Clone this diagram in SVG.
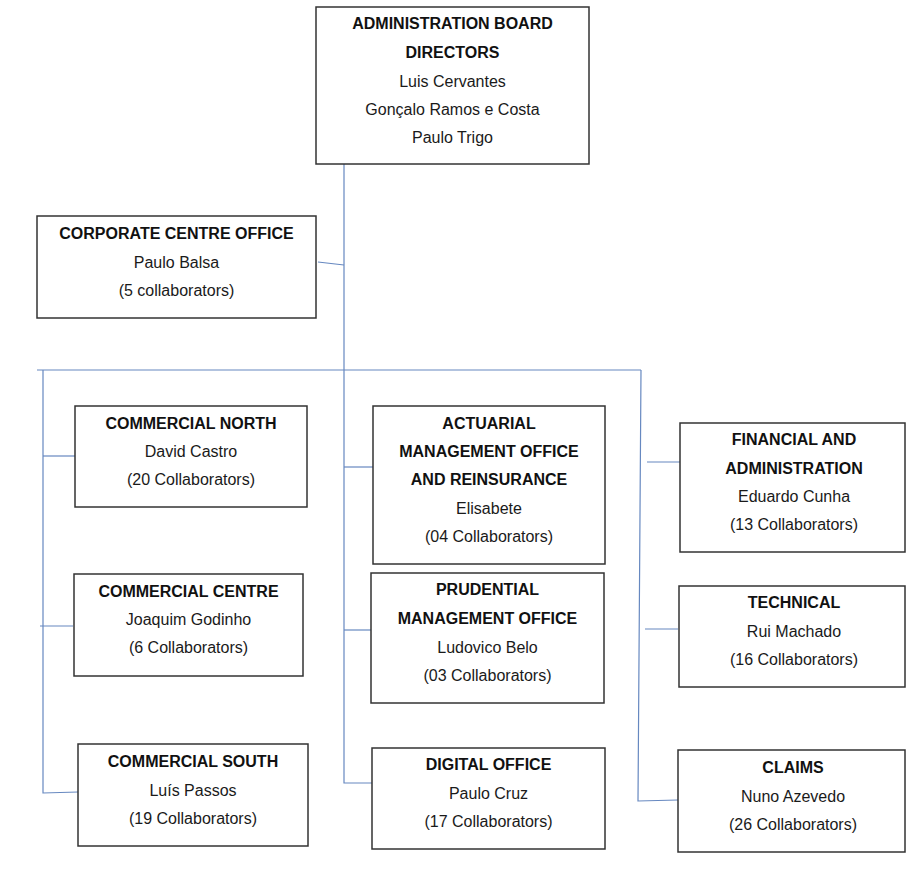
<svg xmlns="http://www.w3.org/2000/svg" width="908" height="869" viewBox="0 0 908 869">
<style>
.box{fill:#fff;stroke:#333;stroke-width:1.5}
.c{fill:none;stroke:#6688c0;stroke-width:1.2}
text{font-family:"Liberation Sans",Arial,sans-serif;font-size:16px;fill:#1a1a1a;text-anchor:middle}
.b{font-weight:bold;fill:#111}
</style>
<rect width="908" height="869" fill="#fff"/>
<g id="connectors">
<path class="c" d="M344,164 V783 H372"/>
<path class="c" d="M318,262 L344,265"/>
<path class="c" d="M37,370 H641"/>
<path class="c" d="M43,370 V793 L78,792"/>
<path class="c" d="M43,456 H75"/>
<path class="c" d="M40,626 H73"/>
<path class="c" d="M344,467 H373"/>
<path class="c" d="M344,630 H371"/>
<path class="c" d="M641,370 L638,801 L678,800"/>
<path class="c" d="M647,462 H680"/>
<path class="c" d="M645,629 H678"/>
</g>
<g id="board">
<rect class="box" x="316" y="7" width="273" height="157"/>
<text class="b" x="452.5" y="29">ADMINISTRATION BOARD</text>
<text class="b" x="452.5" y="58">DIRECTORS</text>
<text x="452.5" y="87">Luis Cervantes</text>
<text x="452.5" y="115">Gonçalo Ramos e Costa</text>
<text x="452.5" y="143">Paulo Trigo</text>
</g>
<g id="corporate">
<rect class="box" x="37" y="216" width="279" height="102"/>
<text class="b" x="176.5" y="239">CORPORATE CENTRE OFFICE</text>
<text x="176.5" y="268">Paulo Balsa</text>
<text x="176.5" y="296">(5 collaborators)</text>
</g>
<g id="comm-north">
<rect class="box" x="75" y="406" width="232" height="101"/>
<text class="b" x="191" y="429">COMMERCIAL NORTH</text>
<text x="191" y="457">David Castro</text>
<text x="191" y="485">(20 Collaborators)</text>
</g>
<g id="comm-centre">
<rect class="box" x="74" y="574" width="229" height="102"/>
<text class="b" x="188.5" y="597">COMMERCIAL CENTRE</text>
<text x="188.5" y="625">Joaquim Godinho</text>
<text x="188.5" y="653">(6 Collaborators)</text>
</g>
<g id="comm-south">
<rect class="box" x="78" y="744" width="230" height="102"/>
<text class="b" x="193" y="767">COMMERCIAL SOUTH</text>
<text x="193" y="796">Luís Passos</text>
<text x="193" y="824">(19 Collaborators)</text>
</g>
<g id="actuarial">
<rect class="box" x="373" y="406" width="232" height="158"/>
<text class="b" x="489" y="429">ACTUARIAL</text>
<text class="b" x="489" y="457">MANAGEMENT OFFICE</text>
<text class="b" x="489" y="485">AND REINSURANCE</text>
<text x="489" y="514">Elisabete</text>
<text x="489" y="542">(04 Collaborators)</text>
</g>
<g id="prudential">
<rect class="box" x="371" y="573" width="233" height="130"/>
<text class="b" x="487.5" y="595">PRUDENTIAL</text>
<text class="b" x="487.5" y="624">MANAGEMENT OFFICE</text>
<text x="487.5" y="653">Ludovico Belo</text>
<text x="487.5" y="681">(03 Collaborators)</text>
</g>
<g id="digital">
<rect class="box" x="372" y="748" width="233" height="101"/>
<text class="b" x="488.5" y="770">DIGITAL OFFICE</text>
<text x="488.5" y="799">Paulo Cruz</text>
<text x="488.5" y="827">(17 Collaborators)</text>
</g>
<g id="financial">
<rect class="box" x="680" y="423" width="225" height="129"/>
<text class="b" x="794" y="445">FINANCIAL AND</text>
<text class="b" x="794" y="474">ADMINISTRATION</text>
<text x="794" y="502">Eduardo Cunha</text>
<text x="794" y="530">(13 Collaborators)</text>
</g>
<g id="technical">
<rect class="box" x="679" y="586" width="226" height="101"/>
<text class="b" x="794" y="608">TECHNICAL</text>
<text x="794" y="637">Rui Machado</text>
<text x="794" y="665">(16 Collaborators)</text>
</g>
<g id="claims">
<rect class="box" x="678" y="750" width="227" height="102"/>
<text class="b" x="793" y="773">CLAIMS</text>
<text x="793" y="802">Nuno Azevedo</text>
<text x="793" y="830">(26 Collaborators)</text>
</g>
</svg>
